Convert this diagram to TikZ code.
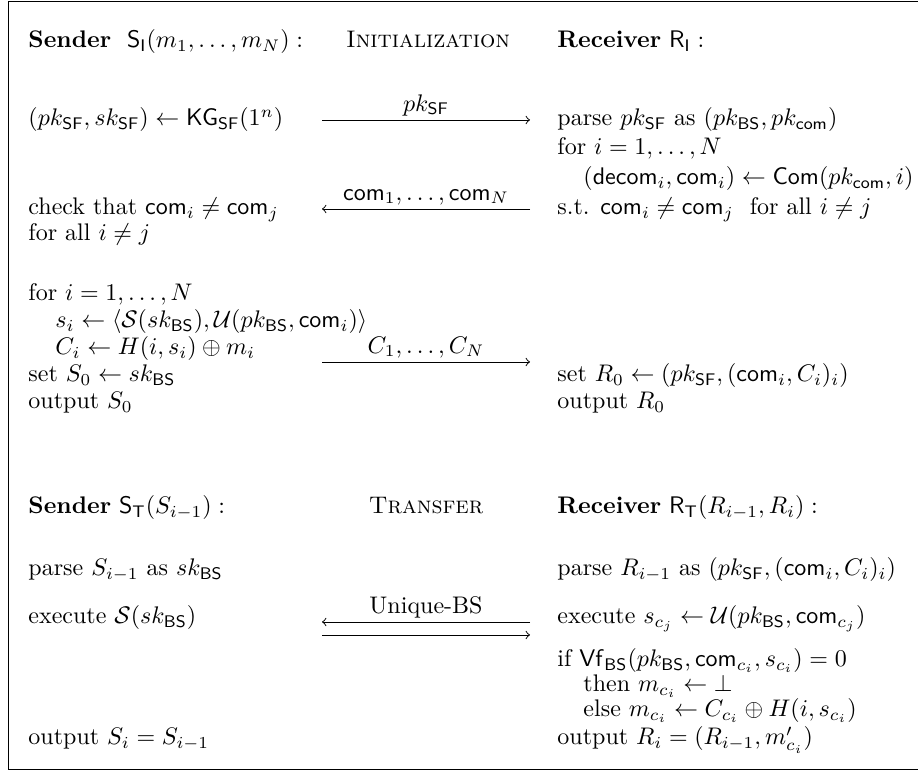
\documentclass[tikz,border=0pt]{standalone}
\usepackage{amsmath}
\usepackage{amssymb}
\begin{document}
\begin{tikzpicture}[x=0.41667pt,y=-0.41667pt,line width=0.4pt,
        txt/.style={anchor=base west,inner sep=0pt},
        hdr/.style={anchor=base,inner sep=0pt},
        msg/.style={->},
        lbl/.style={above,inner sep=1.5pt}]
        \useasboundingbox (0,0) rectangle (918,775);
        % frame, open on the right
        \coordinate (ftl) at (8,1);
        \coordinate (fbl) at (8,769);
        \draw (930,1) -- (ftl) -- (fbl) -- (930,769);

        % initialization
        \node[txt] (sndI) at (28,48) {\textbf{Sender}\ \ $\mathsf{S}_{\mathsf{I}}(m_1,\ldots,m_N):$};
        \node[hdr] (init) at (428,48) {\textsc{Initialization}};
        \node[txt] (rcvI) at (557,48) {\textbf{Receiver} $\mathsf{R}_{\mathsf{I}}:$};

        \node[txt] (kg) at (28,126) {$(pk_{\mathsf{SF}},sk_{\mathsf{SF}})\leftarrow\mathsf{KG}_{\mathsf{SF}}(1^n)$};
        \node[txt] (parseR) at (557,126) {parse $pk_{\mathsf{SF}}$ as $(pk_{\mathsf{BS}},pk_{\mathsf{com}})$};
        \node[txt] (loopR) at (557,155) {for $i=1,\ldots,N$};
        \node[txt] (comR) at (583,185) {$(\mathsf{decom}_i,\mathsf{com}_i)\leftarrow\mathsf{Com}(pk_{\mathsf{com}},i)$};
        \node[txt] (chk) at (28,215) {check that $\mathsf{com}_i\neq\mathsf{com}_j$};
        \node[txt] (chkall) at (28,241) {for all $i\neq j$};
        \node[txt] (stR) at (557,215) {s.t. $\mathsf{com}_i\neq\mathsf{com}_j$~~for all $i\neq j$};

        \node[txt] (loopS) at (28,301) {for $i=1,\ldots,N$};
        \node[txt] (sigS) at (55,328) {$s_i\leftarrow\langle\mathcal{S}(sk_{\mathsf{BS}}),\mathcal{U}(pk_{\mathsf{BS}},\mathsf{com}_i)\rangle$};
        \node[txt] (encS) at (55,355) {$C_i\leftarrow H(i,s_i)\oplus m_i$};
        \node[txt] (setS) at (28,382) {set $S_0\leftarrow sk_{\mathsf{BS}}$};
        \node[txt] (outS) at (28,409) {output $S_0$};
        \node[txt] (setR) at (557,382) {set $R_0\leftarrow(pk_{\mathsf{SF}},(\mathsf{com}_i,C_i)_i)$};
        \node[txt] (outR) at (557,409) {output $R_0$};

        \coordinate (pkL) at (322,120);  \coordinate (pkR) at (530,120);
        \coordinate (comL) at (322,209); \coordinate (comRt) at (530,209);
        \coordinate (encL) at (322,362); \coordinate (encR) at (530,362);
        \draw[msg] (pkL) -- node[lbl] {$pk_{\mathsf{SF}}$} (pkR);
        \draw[msg] (comRt) -- node[lbl] {$\mathsf{com}_1,\ldots,\mathsf{com}_N$} (comL);
        \draw[msg] (encL) -- node[lbl] {$C_1,\ldots,C_N$} (encR);

        % transfer
        \node[txt] (sndT) at (28,514) {\textbf{Sender} $\mathsf{S}_{\mathsf{T}}(S_{i-1}):$};
        \node[hdr] (trans) at (426,514) {\textsc{Transfer}};
        \node[txt] (rcvT) at (557,514) {\textbf{Receiver} $\mathsf{R}_{\mathsf{T}}(R_{i-1},R_i):$};

        \node[txt] (parseS) at (28,576) {parse $S_{i-1}$ as $sk_{\mathsf{BS}}$};
        \node[txt] (parseT) at (557,576) {parse $R_{i-1}$ as $(pk_{\mathsf{SF}},(\mathsf{com}_i,C_i)_i)$};
        \node[txt] (execS) at (28,624) {execute $\mathcal{S}(sk_{\mathsf{BS}})$};
        \node[txt] (execR) at (557,624) {execute $s_{c_j}\leftarrow\mathcal{U}(pk_{\mathsf{BS}},\mathsf{com}_{c_j})$};
        \node[txt] (ifR) at (557,667) {if $\mathsf{Vf}_{\mathsf{BS}}(pk_{\mathsf{BS}},\mathsf{com}_{c_i},s_{c_i})=0$};
        \node[txt] (thenR) at (583,692) {then $m_{c_i}\leftarrow\bot$};
        \node[txt] (elseR) at (583,717) {else $m_{c_i}\leftarrow C_{c_i}\oplus H(i,s_{c_i})$};
        \node[txt] (outSi) at (28,745) {output $S_i=S_{i-1}$};
        \node[txt] (outRi) at (557,745) {output $R_i=(R_{i-1},m'_{c_i})$};

        \coordinate (ubL) at (322,622); \coordinate (ubR) at (530,622);
        \coordinate (ubL2) at (322,635); \coordinate (ubR2) at (530,635);
        \draw[msg] (ubR) -- node[lbl] {Unique-BS} (ubL);
        \draw[msg] (ubL2) -- (ubR2);
    \end{tikzpicture}
\end{document}
